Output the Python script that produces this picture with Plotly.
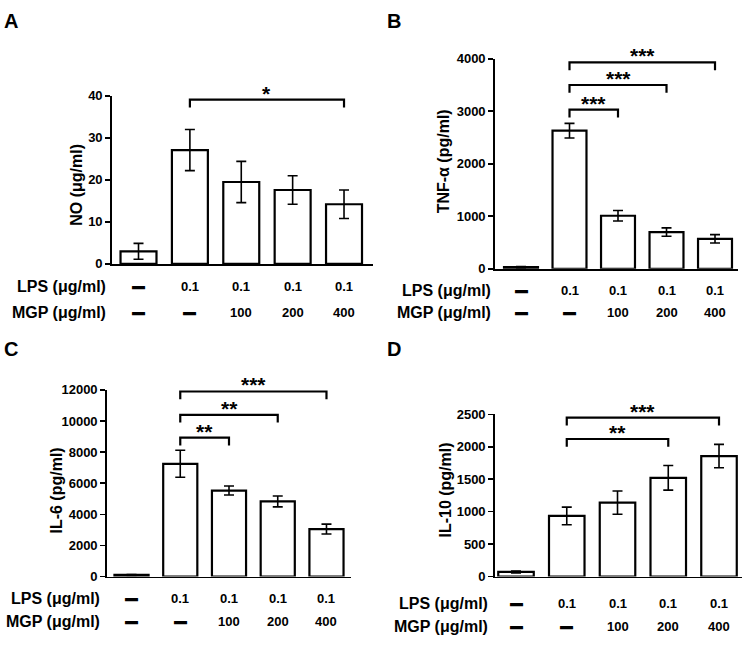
import plotly.graph_objects as go

W, H = 750, 648

# ---------------- data ----------------
groups = [0, 1, 2, 3, 4]
lps_labels = ["—", "0.1", "0.1", "0.1", "0.1"]
mgp_labels = ["—", "—", "100", "200", "400"]

no_vals = [3.0, 27.1, 19.5, 17.6, 14.2]
no_err = [1.9, 4.9, 4.9, 3.4, 3.4]

tnf_vals = [30, 2630, 1010, 700, 570]
tnf_err = [15, 140, 100, 80, 80]

il6_vals = [100, 7250, 5530, 4830, 3050]
il6_err = [30, 870, 290, 350, 320]

il10_vals = [70, 934, 1139, 1521, 1857]
il10_err = [15, 135, 180, 190, 180]

no_sig = [(1, 4, 39.1, "*")]
tnf_sig = [(1, 2, 3030, "***"), (1, 3, 3500, "***"), (1, 4, 3930, "***")]
il6_sig = [(1, 2, 8930, "**"), (1, 3, 10400, "**"), (1, 4, 11900, "***")]
il10_sig = [(1, 3, 2120, "**"), (1, 4, 2450, "***")]

y_titles = ["NO (μg/ml)", "TNF-α (pg/ml)", "IL-6 (pg/ml)", "IL-10 (pg/ml)"]
panel_letters = ["A", "B", "C", "D"]
y_max = [40, 4000, 12000, 2500]
y_dtick = [10, 1000, 2000, 500]

# ---------------- layout (pixels) ----------------
panels = [
    dict(vals=no_vals, err=no_err, sig=no_sig,
         xpx=(112, 373), ypx=(91, 263), xr=(-0.516, 4.564),
         title_xy=(77, 182), rowlab_x=108, row_y=(286, 313), letter=(11, 14)),
    dict(vals=tnf_vals, err=tnf_err, sig=tnf_sig,
         xpx=(495, 738), ypx=(53, 268), xr=(-0.536, 4.474),
         title_xy=(443, 158), rowlab_x=493, row_y=(290, 313), letter=(394, 14)),
    dict(vals=il6_vals, err=il6_err, sig=il6_sig,
         xpx=(107, 351), ypx=(392, 583), xr=(-0.503, 4.503),
         title_xy=(57, 495), rowlab_x=102, row_y=(606, 629), letter=(11, 350)),
    dict(vals=il10_vals, err=il10_err, sig=il10_sig,
         xpx=(495, 742), ypx=(417, 583), xr=(-0.414, 4.453),
         title_xy=(446, 495), rowlab_x=490, row_y=(611, 634), letter=(394, 350)),
]

def px_x(p):
    return p / W

def px_y(p):
    return 1 - p / H

FONT = "Liberation Sans, Arial, sans-serif"
fig = go.Figure()
annotations = []
layout_axes = {}

for i, p in enumerate(panels):
    n = i + 1
    xa = "x" if n == 1 else f"x{n}"
    ya = "y" if n == 1 else f"y{n}"
    xkey = "xaxis" if n == 1 else f"xaxis{n}"
    ykey = "yaxis" if n == 1 else f"yaxis{n}"

    fig.add_trace(go.Bar(
        x=groups, y=p["vals"], width=0.7, xaxis=xa, yaxis=ya,
        marker=dict(color="white", line=dict(color="black", width=2.2)),
        error_y=dict(type="data", array=p["err"], visible=True,
                     color="black", thickness=1.6, width=5),
        showlegend=False, hoverinfo="skip", cliponaxis=False,
    ))

    ymax = y_max[i]
    dom_h = p["ypx"][1] - p["ypx"][0]
    tick = ymax * 8 / dom_h
    for (a, b, yv, stars) in p["sig"]:
        fig.add_trace(go.Scatter(
            x=[groups[a], groups[a], groups[b], groups[b]],
            y=[yv - tick, yv, yv, yv - tick],
            mode="lines", line=dict(color="black", width=2.2),
            xaxis=xa, yaxis=ya, showlegend=False, hoverinfo="skip",
            cliponaxis=False,
        ))
        annotations.append(dict(
            x=(groups[a] + groups[b]) / 2, y=yv, xref=xa, yref=ya,
            text=stars, showarrow=False, yanchor="bottom", yshift=-7,
            font=dict(family=FONT, size=21, color="black", weight="bold"),
        ))

    layout_axes[xkey] = dict(
        domain=[px_x(p["xpx"][0]), px_x(p["xpx"][1])], range=list(p["xr"]),
        anchor=ya, showline=True, linecolor="black", linewidth=1.8,
        ticks="", showticklabels=False, showgrid=False, zeroline=False,
        fixedrange=True,
    )
    layout_axes[ykey] = dict(
        domain=[px_y(p["ypx"][1]), px_y(p["ypx"][0])], range=[0, ymax],
        anchor=xa, showline=True, linecolor="black", linewidth=1.8,
        ticks="outside", ticklen=5, tickwidth=1.6, tickcolor="black",
        dtick=y_dtick[i], tick0=0, tickformat="d",
        showgrid=False, zeroline=False,
        tickfont=dict(family=FONT, size=13, color="black", weight="bold"),
        fixedrange=True,
    )

    # y-axis title
    annotations.append(dict(
        x=px_x(p["title_xy"][0]), y=px_y(p["title_xy"][1]), xref="paper", yref="paper",
        text=y_titles[i], textangle=-90, showarrow=False,
        xanchor="center", yanchor="middle",
        font=dict(family=FONT, size=16, color="black", weight="bold"),
    ))
    # row labels
    for rl, ry in zip(["LPS (μg/ml)", "MGP (μg/ml)"], p["row_y"]):
        annotations.append(dict(
            x=px_x(p["rowlab_x"]), y=px_y(ry), xref="paper", yref="paper",
            text=rl, showarrow=False, xanchor="right", yanchor="middle",
            font=dict(family=FONT, size=16, color="black", weight="bold"),
        ))
    # category labels
    for labels, ry in zip([lps_labels, mgp_labels], p["row_y"]):
        for g, t in zip(groups, labels):
            f = dict(family=FONT, size=13, color="black", weight="bold")
            if t == "—":
                f["shadow"] = "0px 1px 0px black, 0px -1px 0px black"
            annotations.append(dict(
                x=g, y=px_y(ry), xref=xa, yref="paper",
                text=t, showarrow=False, xanchor="center", yanchor="middle",
                font=f,
            ))
    # panel letter
    annotations.append(dict(
        x=px_x(p["letter"][0]), y=px_y(p["letter"][1]), xref="paper", yref="paper",
        text=panel_letters[i], showarrow=False, xanchor="center", yanchor="middle",
        font=dict(family=FONT, size=20, color="black", weight="bold"),
    ))

fig.update_layout(
    width=W, height=H, margin=dict(l=0, r=0, t=0, b=0),
    paper_bgcolor="white", plot_bgcolor="white",
    annotations=annotations, showlegend=False, barmode="overlay",
    **layout_axes,
)

fig.write_html("out.html", config={"displayModeBar": False, "staticPlot": True},
               post_script="document.body.style.margin='0px';")
